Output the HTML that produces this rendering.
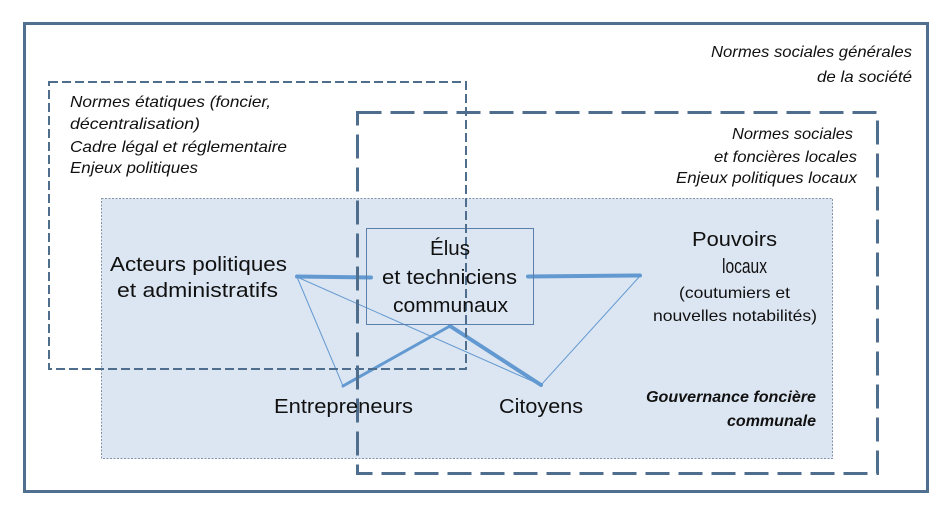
<!DOCTYPE html>
<html>
<head>
<meta charset="utf-8">
<style>
  html, body { margin: 0; padding: 0; background: #ffffff; }
  svg { display: block; }
  text { font-family: "Liberation Sans", "DejaVu Sans", sans-serif; fill: #111111; }
  .it { font-style: italic; font-size: 16px; }
  .lb { font-size: 20px; }
  .sm { font-size: 16px; }
  .bi { font-style: italic; font-weight: bold; font-size: 16px; }
</style>
</head>
<body>
<svg width="951" height="517" viewBox="0 0 951 517" xmlns="http://www.w3.org/2000/svg">
  <rect x="0" y="0" width="951" height="517" fill="#ffffff"/>

  <!-- outer box -->
  <rect x="24.5" y="23.5" width="903" height="468" fill="none" stroke="#50708f" stroke-width="3"/>

  <!-- blue governance area -->
  <rect x="101.5" y="198.5" width="731" height="260" fill="#dce6f2" stroke="#8394a6" stroke-width="1" stroke-dasharray="2 1.5"/>

  <!-- connectors -->
  <g stroke="#6399d1" fill="none" stroke-linecap="round" stroke-linejoin="round">
    <line x1="297" y1="277" x2="343" y2="386" stroke-width="1"/>
    <line x1="297" y1="277" x2="541" y2="385" stroke-width="1"/>
    <line x1="640" y1="276" x2="541" y2="385" stroke-width="1"/>
    <line x1="297" y1="276.5" x2="371" y2="277.5" stroke-width="4"/>
    <line x1="528" y1="276.5" x2="640" y2="275.5" stroke-width="4"/>
    <polyline points="343,386 450,326" stroke-width="3"/>
    <polyline points="450,326 541,385" stroke-width="4"/>
  </g>

  <!-- Élus box -->
  <rect x="366.5" y="228.5" width="167" height="96" fill="none" stroke="#5b7fad" stroke-width="1"/>

  <!-- left dashed box (state norms) -->
  <rect x="49" y="82" width="417" height="287" fill="none" stroke="#4f6d8c" stroke-width="2" stroke-dasharray="9 4"/>

  <!-- right dashed box (local norms) -->
  <rect x="357.5" y="112.5" width="520" height="361" fill="none" stroke="#4f6d8c" stroke-width="3" stroke-dasharray="24 9"/>

  <!-- top-right italic -->
  <text class="it" x="711" y="57" textLength="201" lengthAdjust="spacingAndGlyphs">Normes sociales générales</text>
  <text class="it" x="817" y="82" textLength="95" lengthAdjust="spacingAndGlyphs">de la société</text>

  <!-- left italic -->
  <text class="it" x="70" y="107" textLength="201" lengthAdjust="spacingAndGlyphs">Normes étatiques (foncier,</text>
  <text class="it" x="70" y="129" textLength="130" lengthAdjust="spacingAndGlyphs">décentralisation)</text>
  <text class="it" x="70" y="152" textLength="217" lengthAdjust="spacingAndGlyphs">Cadre légal et réglementaire</text>
  <text class="it" x="70" y="173" textLength="128" lengthAdjust="spacingAndGlyphs">Enjeux politiques</text>

  <!-- right italic -->
  <text class="it" x="732" y="139" textLength="121" lengthAdjust="spacingAndGlyphs">Normes sociales</text>
  <text class="it" x="714" y="162" textLength="143" lengthAdjust="spacingAndGlyphs">et foncières locales</text>
  <text class="it" x="676" y="183" textLength="181" lengthAdjust="spacingAndGlyphs">Enjeux politiques locaux</text>

  <!-- actors -->
  <text class="lb" x="110" y="271" textLength="177" lengthAdjust="spacingAndGlyphs">Acteurs politiques</text>
  <text class="lb" x="117" y="297" textLength="161" lengthAdjust="spacingAndGlyphs">et administratifs</text>

  <text class="lb" x="430" y="255" textLength="40" lengthAdjust="spacingAndGlyphs">Élus</text>
  <text class="lb" x="382" y="284" textLength="135" lengthAdjust="spacingAndGlyphs">et techniciens</text>
  <text class="lb" x="393" y="312" textLength="115" lengthAdjust="spacingAndGlyphs">communaux</text>

  <text class="lb" x="692" y="246" textLength="85" lengthAdjust="spacingAndGlyphs">Pouvoirs</text>
  <text class="lb" x="722" y="273" textLength="45" lengthAdjust="spacingAndGlyphs">locaux</text>
  <text class="sm" x="679" y="298" textLength="111" lengthAdjust="spacingAndGlyphs">(coutumiers et</text>
  <text class="sm" x="653" y="321" textLength="164" lengthAdjust="spacingAndGlyphs">nouvelles notabilités)</text>

  <text class="lb" x="274" y="413" textLength="139" lengthAdjust="spacingAndGlyphs">Entrepreneurs</text>
  <text class="lb" x="499" y="413" textLength="84" lengthAdjust="spacingAndGlyphs">Citoyens</text>

  <text class="bi" x="646" y="402" textLength="170" lengthAdjust="spacingAndGlyphs">Gouvernance foncière</text>
  <text class="bi" x="727" y="426" textLength="89" lengthAdjust="spacingAndGlyphs">communale</text>
</svg>
</body>
</html>
